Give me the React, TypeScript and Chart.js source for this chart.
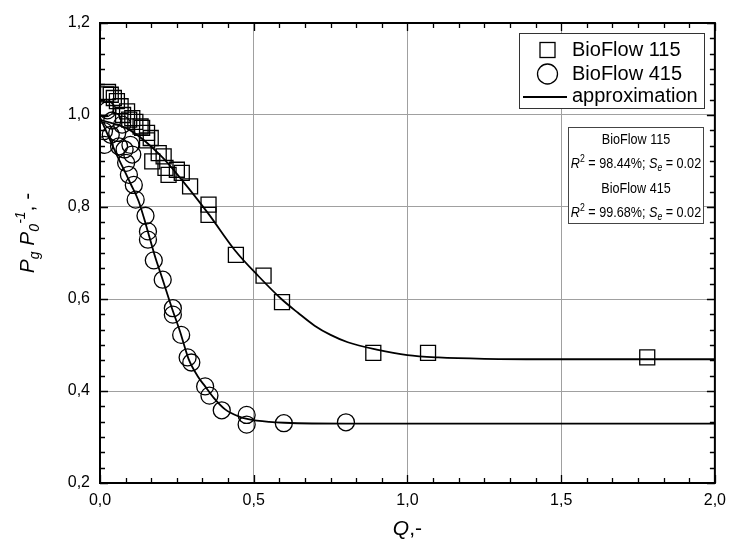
import React, { useEffect, useRef } from 'react';
import { Chart, registerables } from 'chart.js';
Chart.register(...registerables);

// ---- data ----
const bf115X = [0.02, 0.026, 0.035, 0.045, 0.055, 0.067, 0.075, 0.088, 0.095, 0.105, 0.115, 0.132, 0.137, 0.153, 0.153, 0.165, 0.17, 0.191, 0.207, 0.213, 0.223, 0.25, 0.266, 0.293, 0.353, 0.353, 0.442, 0.532, 0.592, 0.889, 1.067, 1.78];
const bf115Y = [1.045, 1.05, 1.044, 1.037, 1.03, 1.019, 1.0, 1.008, 0.99, 0.993, 0.985, 0.975, 0.972, 0.961, 0.945, 0.95, 0.899, 0.917, 0.91, 0.885, 0.87, 0.881, 0.874, 0.845, 0.805, 0.783, 0.696, 0.651, 0.593, 0.483, 0.483, 0.473];

const bf415X = [0.013, 0.018, 0.024, 0.035, 0.04, 0.015, 0.056, 0.062, 0.072, 0.08, 0.099, 0.085, 0.094, 0.105, 0.11, 0.116, 0.148, 0.156, 0.156, 0.175, 0.204, 0.237, 0.237, 0.264, 0.285, 0.297, 0.342, 0.356, 0.396, 0.477, 0.477, 0.598, 0.8];
const bf415Y = [0.965, 1.015, 1.01, 0.957, 0.988, 0.935, 0.961, 0.932, 0.979, 0.925, 0.935, 0.896, 0.87, 0.914, 0.848, 0.816, 0.781, 0.747, 0.729, 0.684, 0.642, 0.58, 0.566, 0.522, 0.473, 0.462, 0.41, 0.39, 0.358, 0.348, 0.327, 0.33, 0.332];

const fit115X = [0, 0.1, 0.2, 0.266, 0.353, 0.44, 0.515, 0.59, 0.644, 0.698, 0.75, 0.806, 0.9, 1.0, 1.1, 1.25, 1.5, 2.0];
const fit115Y = [0.99, 0.966, 0.91, 0.859, 0.785, 0.705, 0.65, 0.6, 0.57, 0.542, 0.522, 0.506, 0.49, 0.478, 0.473, 0.47, 0.469, 0.469];

const fit415X = [0, 0.05, 0.1, 0.126, 0.15, 0.18, 0.2, 0.234, 0.26, 0.288, 0.32, 0.342, 0.37, 0.407, 0.45, 0.482, 0.55, 0.6, 0.8, 1.0, 2.0];
const fit415Y = [0.995, 0.92, 0.85, 0.812, 0.76, 0.69, 0.65, 0.58, 0.53, 0.47, 0.43, 0.41, 0.385, 0.36, 0.345, 0.339, 0.333, 0.331, 0.329, 0.329, 0.329];

const xMin = 0, xMax = 2, xStep = 0.5;
const yMin = 0.2, yMax = 1.2, yStep = 0.2;
const minorDiv = 6;

const legendLabels = ['BioFlow 115', 'BioFlow 415', 'approximation'];
const statLines = [
  { name: 'BioFlow 115', r2: '98.44%', se: '0.02' },
  { name: 'BioFlow 415', r2: '99.68%', se: '0.02' },
];

const FONT = '"Liberation Sans", Arial, Helvetica, sans-serif';
const fmt = (v: number) => v.toFixed(1).replace('.', ',');
const pts = (xs: number[], ys: number[]) => xs.map((x, i) => ({ x, y: ys[i] }));

type Piece = { t: string; size: number; italic?: boolean; dy?: number };

function drawPieces(ctx: CanvasRenderingContext2D, pieces: Piece[], cx: number, y: number, sx = 1) {
  let total = 0;
  const widths = pieces.map((p) => {
    ctx.font = `${p.italic ? 'italic ' : ''}${p.size}px ${FONT}`;
    const w = ctx.measureText(p.t).width;
    total += w;
    return w;
  });
  ctx.save();
  ctx.translate(cx, y);
  ctx.scale(sx, 1);
  let x = -total / 2;
  ctx.textAlign = 'left';
  ctx.textBaseline = 'alphabetic';
  pieces.forEach((p, i) => {
    ctx.font = `${p.italic ? 'italic ' : ''}${p.size}px ${FONT}`;
    ctx.fillText(p.t, x, p.dy || 0);
    x += widths[i];
  });
  ctx.restore();
}

const decorPlugin = {
  id: 'decor',
  afterDraw(chart: any) {
    const { ctx, chartArea: a, scales } = chart;
    const xs = scales.x, ys = scales.y;
    ctx.save();
    ctx.strokeStyle = '#000';
    ctx.fillStyle = '#000';
    // ticks (inside, all four sides)
    ctx.lineWidth = 1.3;
    const nx = Math.round((xMax - xMin) / xStep) * minorDiv;
    for (let i = 0; i <= nx; i++) {
      const v = xMin + (i * xStep) / minorDiv;
      const px = Math.round(xs.getPixelForValue(v)) + 0.5;
      const len = i % minorDiv === 0 ? 8 : 5;
      ctx.beginPath();
      ctx.moveTo(px, a.bottom); ctx.lineTo(px, a.bottom - len);
      ctx.moveTo(px, a.top); ctx.lineTo(px, a.top + len);
      ctx.stroke();
    }
    const ny = Math.round((yMax - yMin) / yStep) * minorDiv;
    for (let i = 0; i <= ny; i++) {
      const v = yMin + (i * yStep) / minorDiv;
      const py = Math.round(ys.getPixelForValue(v)) + 0.5;
      const len = i % minorDiv === 0 ? 8 : 5;
      ctx.beginPath();
      ctx.moveTo(a.left, py); ctx.lineTo(a.left + len, py);
      ctx.moveTo(a.right, py); ctx.lineTo(a.right - len, py);
      ctx.stroke();
    }
    // frame
    ctx.lineWidth = 2;
    ctx.strokeRect(a.left, a.top, a.right - a.left, a.bottom - a.top);

    // legend box
    const lb = { l: 519, t: 33, r: 704, b: 108 };
    ctx.fillStyle = '#fff';
    ctx.fillRect(lb.l, lb.t, lb.r - lb.l, lb.b - lb.t);
    ctx.lineWidth = 1;
    ctx.strokeStyle = '#333';
    ctx.strokeRect(lb.l + 0.5, lb.t + 0.5, lb.r - lb.l, lb.b - lb.t);
    ctx.strokeStyle = '#000';
    ctx.lineWidth = 1.3;
    ctx.strokeRect(540, 42.5, 15, 15);
    ctx.beginPath();
    ctx.arc(547.5, 74, 10, 0, Math.PI * 2);
    ctx.stroke();
    ctx.lineWidth = 1.8;
    ctx.beginPath();
    ctx.moveTo(523, 97); ctx.lineTo(567, 97);
    ctx.stroke();
    ctx.fillStyle = '#000';
    ctx.font = `20px ${FONT}`;
    ctx.textAlign = 'left';
    ctx.textBaseline = 'middle';
    const rowsY = [50, 74, 96];
    legendLabels.forEach((t, i) => ctx.fillText(t, 572, rowsY[i]));

    // stats box
    const sb = { l: 568, t: 127, r: 703, b: 223 };
    ctx.fillStyle = '#fff';
    ctx.fillRect(sb.l, sb.t, sb.r - sb.l, sb.b - sb.t);
    ctx.strokeStyle = '#444';
    ctx.lineWidth = 1;
    ctx.strokeRect(sb.l + 0.5, sb.t + 0.5, sb.r - sb.l, sb.b - sb.t);
    ctx.fillStyle = '#000';
    const cx = (sb.l + sb.r) / 2 + 0.5;
    const fs = 14.5;
    const sx = 0.87;
    statLines.forEach((s, i) => {
      const base = 144 + i * 49;
      drawPieces(ctx, [{ t: s.name, size: fs }], cx, base, sx);
      drawPieces(ctx, [
        { t: 'R', size: fs, italic: true },
        { t: '2', size: 10, dy: -6 },
        { t: ' = ' + s.r2 + '; ', size: fs },
        { t: 'S', size: fs, italic: true },
        { t: 'e', size: 10, italic: true, dy: 3 },
        { t: ' = ' + s.se, size: fs },
      ], cx, base + 24, sx);
    });

    // x title
    ctx.fillStyle = '#000';
    drawPieces(ctx, [{ t: 'Q', size: 21, italic: true }, { t: ',-', size: 21 }], (a.left + a.right) / 2, 535);

    // y title
    ctx.save();
    ctx.translate(34, 233);
    ctx.rotate(-Math.PI / 2);
    drawPieces(ctx, [
      { t: 'P', size: 21, italic: true },
      { t: 'g', size: 14, italic: true, dy: 5 },
      { t: ' ', size: 21 },
      { t: 'P', size: 21, italic: true },
      { t: '0', size: 14, italic: true, dy: 5 },
      { t: '-1', size: 14, italic: true, dy: -9 },
      { t: ', -', size: 21 },
    ], 0, 0);
    ctx.restore();
    ctx.restore();
  },
};

export default function App() {
  const ref = useRef<HTMLCanvasElement>(null);
  useEffect(() => {
    if (!ref.current) return;
    const chart = new Chart(ref.current, {
      type: 'scatter',
      data: {
        datasets: [
          {
            type: 'line', label: 'fit115', data: pts(fit115X, fit115Y), borderColor: '#000', borderWidth: 1.8,
            pointRadius: 0, fill: false, cubicInterpolationMode: 'monotone',
          } as any,
          {
            type: 'line', label: 'fit415', data: pts(fit415X, fit415Y), borderColor: '#000', borderWidth: 1.8,
            pointRadius: 0, fill: false, cubicInterpolationMode: 'monotone',
          } as any,
          {
            label: 'BioFlow 115', data: pts(bf115X, bf115Y), pointStyle: 'rect', pointRadius: 10.6,
            borderColor: '#000', borderWidth: 1.3, backgroundColor: 'rgba(0,0,0,0)',
          },
          {
            label: 'BioFlow 415', data: pts(bf415X, bf415Y), pointStyle: 'circle', pointRadius: 8.5,
            borderColor: '#000', borderWidth: 1.3, backgroundColor: 'rgba(0,0,0,0)',
          },
        ],
      },
      options: {
        responsive: false,
        animation: false,
        layout: { padding: { left: 0, top: 23, right: 14, bottom: 0 } },
        plugins: { legend: { display: false }, tooltip: { enabled: false } },
        scales: {
          x: {
            type: 'linear', min: xMin, max: xMax,
            ticks: { stepSize: xStep, callback: (v: any) => fmt(Number(v)), font: { family: FONT, size: 16 }, color: '#000', padding: 8, maxRotation: 0 },
            grid: { color: '#a0a0a0', lineWidth: 1, drawTicks: false },
            border: { display: false },
            afterFit: (s: any) => { s.height = 59; },
          },
          y: {
            type: 'linear', min: yMin, max: yMax,
            ticks: { stepSize: yStep, callback: (v: any) => fmt(Number(v)), font: { family: FONT, size: 16 }, color: '#000', padding: 10 },
            grid: { color: '#a0a0a0', lineWidth: 1, drawTicks: false },
            border: { display: false },
            afterFit: (s: any) => { s.width = 100; },
          },
        },
      },
      plugins: [decorPlugin],
    });
    return () => chart.destroy();
  }, []);
  return (
    <div style={{ position: 'absolute', left: 0, top: 0, width: 734, height: 542, background: '#fff' }}>
      <canvas ref={ref} width={734} height={542} style={{ width: 734, height: 542 }} />
    </div>
  );
}
